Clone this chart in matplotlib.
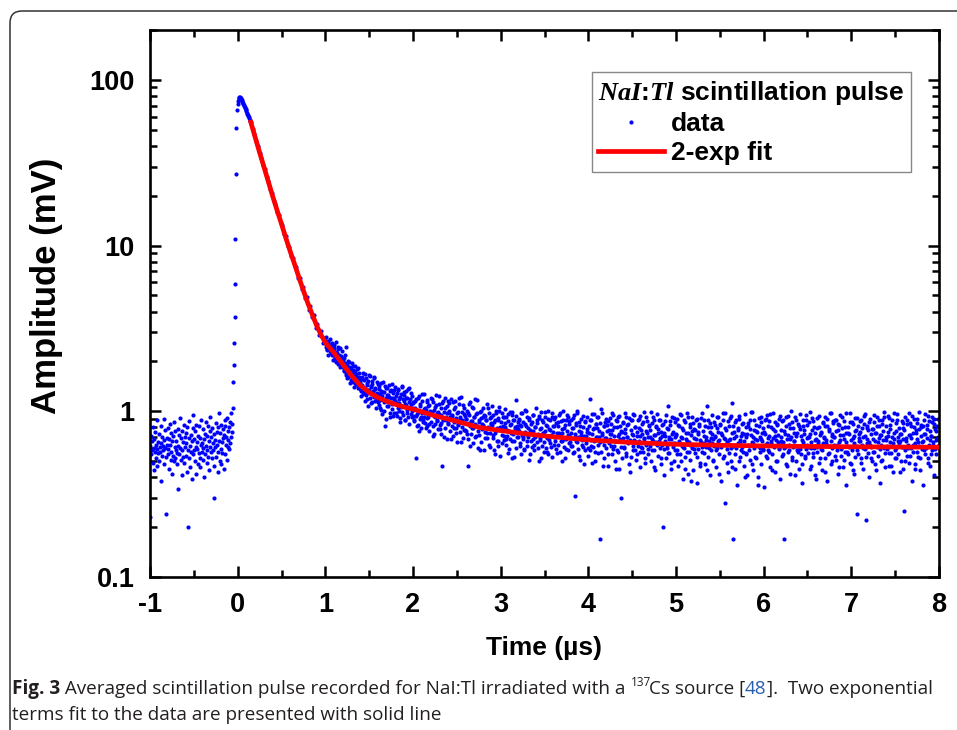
import numpy as np
import matplotlib
matplotlib.use('Agg')
import matplotlib.pyplot as plt
from matplotlib.patches import FancyBboxPatch
from matplotlib.transforms import IdentityTransform
from matplotlib.ticker import FixedLocator, FixedFormatter, LogLocator, NullFormatter, MultipleLocator

plt.rcParams['font.family'] = ['Liberation Sans', 'DejaVu Sans']
plt.rcParams['axes.unicode_minus'] = False
plt.rcParams['mathtext.fontset'] = 'custom'
plt.rcParams['mathtext.it'] = 'Liberation Serif:italic:bold'
plt.rcParams['mathtext.rm'] = 'Liberation Serif'

# ---- data ----
# baseline before the pulse, t = -1.0 ... step 0.005 us, amplitude in 0.01 mV
t_base0, dt_base = -1.0, 0.005
amp_base = [
    23, 62, 55, 71, 58, 66, 49, 80, 60, 44, 68, 57, 75, 52, 63, 59, 88, 47, 65, 56,
    73, 50, 61, 57, 82, 64, 38, 70, 54, 62, 58, 90, 48, 67, 60, 77, 53, 24, 63, 69,
    55, 79, 59, 45, 68, 63, 84, 51, 57, 74, 42, 66, 54, 71, 50, 86, 61, 76, 52, 58,
    66, 56, 48, 78, 62, 34, 72, 55, 91, 60, 51, 69, 41, 76, 58, 65, 53, 83, 49, 70,
    61, 74, 54, 64, 43, 80, 20, 58, 69, 52, 87, 62, 46, 72, 57, 66, 39, 79, 55, 95,
    58, 68, 50, 76, 61, 42, 83, 59, 65, 48, 71, 56, 81, 52, 69, 46, 63, 89, 57, 64,
    51, 78, 60, 68, 40, 73, 55, 86, 62, 49, 71, 58, 82, 53, 66, 44, 76, 61, 92, 57,
    70, 52, 79, 58, 64, 47, 73, 30, 67, 61, 85, 53, 75, 63, 43, 80, 57, 97, 66, 50,
    74, 59, 48, 83, 65, 56, 78, 69, 45, 72, 88, 55, 81, 63, 70, 51, 91, 61, 76, 67,
    59, 80, 64, 86, 70, 98, 75, 84,
]

# rising edge, t = -0.055 ... step 0.005 us, mV
t_rise0, dt_rise = -0.055, 0.005
amp_rise = [1.05, 1.5, 1.9, 2.6, 3.7, 5.9, 11.0, 27.0, 51.0, 66.0]

# pulse top, t = 0 ... step 0.005 us, mV
t_peak0, dt_peak = 0.0, 0.005
amp_peak = [72, 75, 77, 78, 78.5, 78.5, 78, 77.5, 76.5, 75.5, 74.5, 73.5, 72.5, 71.5,
            70.5, 69.5, 68.5, 67.5, 66.5, 65.5, 64.5, 63.5, 62.5, 61.5, 60.5, 59.5,
            58.5, 57.5, 56.5]

# fast decay, t = 0.15 ... step 0.02 us, mV
t_dec0, dt_dec = 0.15, 0.02
amp_dec = [55.8, 50.6, 47.3, 42.7, 39.8, 36.2, 33.9, 30.8, 28.9, 26.1, 24.6, 22.1,
           20.9, 18.7, 17.9, 16.0, 15.4, 13.7, 13.3, 11.7, 11.4, 10.0, 9.8, 8.6, 8.4,
           7.5, 7.4, 6.4, 6.4, 5.5, 5.6, 4.8, 4.9, 4.1, 4.3, 3.7, 3.8, 3.2, 3.35, 2.9,
           3.05, 2.6, 2.75]

# slow part, t = 1.0 ... step 0.008 us, mV
t_slow0, dt_slow = 1.0, 0.008
amp_slow = [
    2.71, 2.45, 2.58, 2.38, 2.66, 2.49, 2.31, 2.52, 2.29, 2.44, 2.18, 2.36, 2.21, 2.40, 2.09, 2.27, 2.15, 2.02, 2.43, 2.11, 1.95, 2.08, 1.89, 2.16, 1.97,
    1.85, 2.10, 1.78, 1.96, 2.43, 1.71, 1.90, 1.62, 1.83, 1.97, 1.66, 1.54, 1.79, 1.70, 1.88, 1.51, 1.64, 1.75, 1.48, 1.69, 1.58, 1.82, 1.43, 1.61, 1.52,
    1.49, 1.33, 1.61, 1.40, 1.28, 1.55, 1.37, 1.68, 1.25, 1.44, 1.19, 1.52, 1.34, 1.63, 1.29, 1.41, 1.13, 1.47, 1.31, 1.58, 1.22, 1.36, 1.26, 1.50, 1.18,
    1.28, 1.09, 1.42, 1.17, 1.33, 1.02, 1.24, 1.51, 1.13, 1.30, 0.82, 1.20, 1.38, 1.07, 1.26, 1.15, 1.45, 0.98, 1.21, 1.34, 1.11, 1.29, 0.94, 1.18, 1.40,
    1.16, 0.97, 1.29, 1.05, 1.37, 1.12, 0.91, 1.22, 1.08, 1.43, 0.99, 1.18, 1.26, 0.88, 1.10, 1.33, 1.02, 1.20, 0.93, 1.14, 1.39, 1.06, 0.96, 1.24, 1.01,
]
# interleaved samples of the slow part, t = 1.004 ... step 0.008 us, mV
t_slow2_0 = 1.004
amp_slow2 = [
    2.55, 2.82, 2.34, 2.61, 2.20, 2.47, 2.73, 2.26, 2.39, 2.58, 2.05, 2.31, 2.50, 2.14, 2.62, 1.98, 2.25, 2.37, 1.92, 2.19, 2.41, 1.86, 2.12, 2.30, 1.94,
    2.04, 1.74, 1.93, 2.19, 1.65, 1.81, 1.58, 2.02, 1.72, 1.49, 1.86, 1.63, 1.95, 1.55, 1.77, 1.41, 1.68, 1.88, 1.46, 1.60, 1.79, 1.39, 1.57, 1.71, 1.36,
    1.56, 1.24, 1.45, 1.71, 1.30, 1.38, 1.16, 1.59, 1.27, 1.48, 1.07, 1.35, 1.66, 1.21, 1.43, 1.12, 1.53, 1.32, 1.25, 1.60, 1.15, 1.39, 1.04, 1.29, 1.46,
    1.14, 1.36, 1.05, 1.27, 1.48, 0.96, 1.19, 1.31, 1.01, 1.42, 1.16, 0.90, 1.25, 1.38, 1.08, 1.22, 0.93, 1.33, 1.12, 1.47, 1.03, 1.20, 1.35, 0.97, 1.15,
    1.23, 0.94, 1.12, 1.34, 1.00, 1.18, 0.86, 1.27, 1.06, 1.41, 0.95, 1.15, 1.30, 0.89, 1.09, 1.21, 0.98, 1.36, 1.04, 0.84, 1.19, 1.10, 1.29, 0.92, 1.13,
]

# tail, t = 2.0 ... step 0.0075 us, amplitude in 0.01 mV
t_tail0, dt_tail = 2.0, 0.0075
amp_tail = [
    112, 94, 87, 105, 52, 118, 96, 83, 101, 124, 90, 108, 79, 115, 98, 88, 127, 93, 104, 85,
    102, 81, 117, 92, 76, 109, 97, 121, 86, 99, 71, 113, 94, 84, 106, 125, 89, 98, 78, 110,
    96, 83, 104, 73, 47, 115, 88, 99, 79, 120, 92, 68, 107, 85, 97, 112, 76, 90, 118, 82,
    94, 71, 103, 86, 116, 79, 91, 65, 99, 84, 110, 75, 93, 122, 80, 88, 69, 105, 96, 77,
    90, 76, 101, 68, 47, 95, 82, 113, 73, 87, 106, 79, 64, 92, 84, 118, 71, 98, 81, 60,
    86, 72, 99, 65, 91, 78, 104, 83, 58, 94, 75, 88, 69, 110, 80, 63, 97, 74, 85, 92,
    83, 69, 95, 58, 88, 74, 101, 66, 79, 91, 62, 106, 77, 54, 86, 72, 98, 81, 67, 93,
    80, 63, 92, 71, 56, 87, 76, 99, 68, 84, 52, 95, 73, 66, 89, 78, 60, 117, 82, 70,
    78, 90, 64, 83, 55, 97, 72, 68, 86, 59, 102, 75, 81, 62, 93, 70, 51, 88, 77, 66,
    84, 61, 76, 95, 58, 80, 70, 104, 65, 88, 73, 50, 91, 67, 79, 99, 62, 74, 86, 57,
    76, 92, 60, 83, 69, 101, 55, 78, 88, 64, 72, 97, 53, 81, 70, 90, 66, 59, 85, 74,
    82, 63, 95, 71, 57, 87, 74, 66, 100, 61, 79, 52, 89, 68, 76, 93, 58, 84, 72, 65,
    74, 88, 62, 79, 56, 95, 70, 31, 83, 65, 98, 59, 76, 86, 51, 72, 90, 67, 61, 80,
    71, 58, 86, 64, 93, 75, 54, 81, 68, 118, 62, 89, 73, 49, 78, 96, 66, 57, 84, 70,
    79, 63, 92, 70, 17, 85, 57, 74, 98, 66, 52, 81, 69, 90, 60, 76, 47, 87, 64, 73,
    68, 84, 55, 77, 95, 62, 71, 50, 88, 66, 80, 58, 93, 73, 45, 82, 61, 30, 75, 69,
    86, 60, 74, 98, 56, 70, 83, 64, 48, 91, 67, 77, 53, 88, 62, 72, 95, 58, 80, 65,
    71, 55, 89, 66, 79, 46, 94, 61, 73, 84, 57, 68, 99, 52, 76, 63, 87, 59, 70, 81,
    62, 77, 50, 85, 68, 93, 58, 72, 44, 80, 65, 96, 54, 74, 88, 60, 69, 48, 83, 71,
    20, 74, 59, 87, 66, 52, 79, 63, 107, 70, 56, 83, 45, 68, 92, 61, 75, 50, 86, 64,
    73, 58, 90, 47, 66, 81, 55, 70, 95, 62, 39, 77, 60, 86, 53, 68, 98, 57, 74, 42,
    65, 84, 51, 72, 60, 93, 44, 69, 78, 56, 88, 63, 37, 75, 59, 82, 67, 49, 91, 61,
    57, 76, 64, 89, 48, 70, 61, 107, 53, 80, 66, 41, 85, 58, 73, 95, 50, 68, 62, 83,
    71, 46, 79, 60, 92, 55, 67, 84, 38, 74, 63, 88, 52, 69, 97, 28, 77, 59, 65, 43,
    81, 56, 68, 94, 50, 112, 62, 17, 75, 45, 86, 60, 71, 36, 79, 64, 90, 53, 67, 58,
    74, 61, 85, 47, 66, 96, 55, 70, 41, 82, 63, 58, 89, 51, 72, 65, 99, 44, 77, 60,
    68, 83, 52, 75, 62, 40, 91, 57, 70, 86, 48, 66, 79, 59, 35, 73, 88, 54, 64, 95,
    58, 71, 87, 46, 64, 80, 55, 69, 98, 61, 43, 76, 67, 84, 50, 72, 60, 90, 39, 66,
    77, 54, 65, 89, 60, 17, 73, 82, 48, 68, 94, 57, 63, 42, 79, 70, 86, 51, 61, 74,
    66, 92, 50, 71, 58, 84, 62, 45, 78, 96, 55, 67, 37, 81, 63, 73, 52, 88, 59, 69,
    83, 56, 70, 61, 99, 47, 65, 77, 53, 87, 60, 41, 74, 68, 91, 57, 64, 80, 49, 72,
    59, 75, 44, 86, 64, 70, 93, 52, 67, 81, 38, 62, 78, 56, 97, 66, 48, 73, 60, 85,
    70, 63, 89, 51, 76, 58, 42, 84, 65, 72, 95, 54, 61, 79, 46, 68, 87, 57, 74, 36,
    62, 80, 55, 73, 98, 49, 67, 60, 86, 44, 71, 64, 91, 53, 77, 58, 24, 82, 66, 69,
    75, 52, 88, 63, 70, 45, 84, 59, 96, 22, 68, 79, 56, 65, 40, 90, 61, 73, 50, 78,
    57, 86, 66, 48, 74, 61, 93, 54, 69, 82, 37, 72, 63, 88, 51, 76, 60, 99, 46, 67,
    81, 59, 71, 94, 47, 65, 78, 56, 62, 89, 43, 74, 68, 52, 85, 60, 96, 55, 70, 64,
    66, 73, 50, 87, 61, 79, 45, 25, 92, 58, 69, 84, 54, 63, 97, 49, 72, 60, 81, 38,
    74, 57, 90, 64, 48, 77, 68, 85, 53, 62, 99, 44, 71, 80, 59, 66, 36, 88, 55, 73,
    60, 83, 69, 52, 94, 63, 76, 47, 71, 86, 58, 65, 90, 41, 78, 67, 55, 82, 62, 70,
]
# interleaved tail samples, t = 2.004 ... step 0.01 us, amplitude in 0.01 mV
t_tail2_0, dt_tail2 = 2.004, 0.01
amp_tail2 = [
    105, 89, 116, 94, 82, 121, 99, 76, 110, 92, 128, 86, 103, 97, 79, 114, 91, 107, 84, 100,
    96, 118, 81, 102, 73, 93, 109, 87, 99, 123, 78, 95, 85, 112, 90, 70, 104, 88, 97, 115,
    84, 101, 92, 68, 95, 113, 79, 88, 106, 74, 97, 83, 120, 90, 65, 99, 86, 109, 77, 94,
    90, 73, 98, 85, 111, 62, 87, 79, 104, 92, 70, 96, 81, 117, 76, 89, 58, 100, 84, 93,
    82, 95, 69, 88, 74, 105, 79, 61, 91, 84, 108, 72, 86, 55, 97, 77, 89, 66, 101, 80,
    79, 64, 92, 71, 85, 103, 68, 77, 96, 59, 83, 74, 99, 66, 88, 53, 80, 94, 70, 86,
    76, 89, 62, 81, 97, 70, 58, 84, 73, 101, 66, 79, 91, 55, 75, 86, 68, 95, 63, 80,
    72, 85, 60, 94, 69, 78, 52, 88, 74, 65, 99, 71, 82, 57, 90, 67, 77, 61, 93, 75,
    81, 63, 92, 70, 56, 86, 74, 97, 66, 78, 50, 89, 68, 83, 59, 95, 72, 64, 87, 69,
    62, 79, 91, 57, 73, 85, 66, 100, 70, 54, 82, 75, 63, 94, 68, 48, 87, 71, 78, 60,
    74, 58, 88, 67, 96, 61, 79, 50, 84, 70, 92, 56, 76, 65, 103, 72, 47, 81, 63, 86,
    69, 83, 55, 77, 91, 62, 73, 98, 59, 80, 66, 45, 87, 71, 57, 94, 68, 76, 52, 85,
    61, 78, 93, 54, 70, 84, 65, 43, 89, 73, 58, 96, 67, 80, 51, 75, 62, 90, 71, 57,
    77, 60, 86, 69, 49, 92, 64, 74, 55, 83, 70, 99, 58, 66, 88, 46, 72, 81, 63, 78,
    66, 89, 52, 75, 63, 84, 41, 71, 95, 60, 78, 56, 68, 87, 49, 73, 64, 91, 58, 70,
    72, 55, 83, 64, 96, 50, 69, 79, 61, 88, 45, 74, 66, 92, 57, 80, 63, 38, 76, 85,
    59, 77, 68, 90, 53, 73, 84, 47, 65, 98, 62, 71, 56, 82, 67, 44, 88, 60, 75, 69,
    80, 64, 51, 86, 70, 58, 93, 66, 75, 42, 83, 61, 72, 97, 54, 68, 79, 63, 49, 87,
    67, 91, 60, 74, 46, 82, 69, 55, 88, 63, 77, 50, 94, 65, 71, 84, 57, 73, 40, 80,
    56, 73, 85, 62, 78, 99, 48, 70, 64, 89, 53, 76, 67, 36, 81, 60, 92, 68, 74, 58,
    75, 63, 90, 52, 69, 81, 57, 96, 66, 44, 78, 62, 86, 71, 50, 83, 65, 59, 94, 70,
    64, 87, 55, 76, 61, 93, 47, 72, 84, 58, 68, 100, 53, 79, 66, 41, 88, 62, 74, 57,
    82, 59, 71, 48, 89, 65, 77, 54, 95, 63, 70, 86, 45, 73, 60, 91, 56, 80, 67, 39,
    61, 79, 66, 94, 52, 74, 58, 85, 69, 43, 81, 64, 90, 55, 76, 62, 97, 50, 71, 87,
    70, 54, 88, 63, 77, 46, 83, 67, 59, 92, 72, 51, 80, 65, 98, 57, 74, 61, 86, 48,
    58, 84, 69, 42, 76, 62, 91, 55, 73, 66, 87, 49, 79, 60, 94, 71, 53, 82, 64, 77,
    86, 63, 52, 78, 68, 95, 57, 74, 44, 81, 65, 89, 59, 72, 50, 84, 67, 93, 56, 70,
    62, 75, 91, 56, 83, 47, 70, 64, 97, 58, 76, 52, 88, 66, 79, 43, 73, 61, 85, 68,
    77, 50, 66, 89, 60, 72, 85, 54, 69, 94, 63, 80, 45, 74, 57, 90, 65, 78, 52, 83,
    65, 82, 58, 73, 96, 61, 78, 49, 87, 67, 71, 55, 92, 63, 84, 59, 76, 68, 90, 62,
]

# 2-exp fit curve
fit_t = [0.15, 0.2, 0.25, 0.3, 0.35, 0.4, 0.45, 0.5, 0.55, 0.6, 0.65, 0.7, 0.75, 0.8,
         0.85, 0.9, 0.95, 1.0, 1.05, 1.1, 1.2, 1.3, 1.4, 1.5, 1.6, 1.7, 1.8, 1.9, 2.0,
         2.25, 2.5, 2.75, 3.0, 3.25, 3.5, 3.75, 4.0, 4.5, 5.0, 5.5, 6.0, 6.5, 7.0, 7.5, 8.0]
fit_v = [55.5, 45, 36.5, 29.8, 24.3, 19.8, 16.3, 13.5, 11.1, 9.2, 7.7, 6.4, 5.35, 4.5,
         3.85, 3.3, 2.9, 2.6, 2.42, 2.25, 1.92, 1.64, 1.43, 1.30, 1.21, 1.15, 1.10, 1.06, 1.03,
         0.94, 0.87, 0.80, 0.765, 0.735, 0.71, 0.69, 0.672, 0.648, 0.632, 0.624, 0.618,
         0.614, 0.611, 0.609, 0.607]

x_ticks = [-1, 0, 1, 2, 3, 4, 5, 6, 7, 8]
y_ticks = [0.1, 1, 10, 100]
y_ticklabels = ['0.1', '1', '10', '100']


def sample_times(t0, dt, vals):
    return t0 + dt * np.arange(len(vals))


t_all = np.concatenate([
    sample_times(t_base0, dt_base, amp_base),
    sample_times(t_rise0, dt_rise, amp_rise),
    sample_times(t_peak0, dt_peak, amp_peak),
    sample_times(t_dec0, dt_dec, amp_dec),
    sample_times(t_slow0, dt_slow, amp_slow),
    sample_times(t_slow2_0, dt_slow, amp_slow2),
    sample_times(t_tail0, dt_tail, amp_tail),
    sample_times(t_tail2_0, dt_tail2, amp_tail2),
])
a_all = np.concatenate([
    np.array(amp_base) / 100.0,
    amp_rise, amp_peak, amp_dec, amp_slow, amp_slow2,
    np.array(amp_tail) / 100.0,
    np.array(amp_tail2) / 100.0,
])

W, H = 957, 730
fig = plt.figure(figsize=(W / 100, H / 100), dpi=100)
ax = fig.add_axes([150 / W, 1 - 577 / H, 789 / W, 547 / H])

ax.plot(t_all, a_all, 'o', color='#0000ff', ms=3.0, mew=0, linestyle='none',
        label='data', zorder=2)
ax.plot(fit_t, fit_v, '-', color='#ff0000', lw=3.4, label='2-exp fit', zorder=3)

ax.set_yscale('log')
ax.set_xlim(-1, 8)
ax.set_ylim(0.1, 200)

ax.xaxis.set_major_locator(FixedLocator(x_ticks))
ax.xaxis.set_minor_locator(MultipleLocator(0.5))
ax.yaxis.set_major_locator(FixedLocator(y_ticks))
ax.yaxis.set_major_formatter(FixedFormatter(y_ticklabels))
ax.yaxis.set_minor_locator(LogLocator(base=10, subs=range(2, 10)))
ax.yaxis.set_minor_formatter(NullFormatter())

for s in ax.spines.values():
    s.set_linewidth(1.9)
ax.tick_params(which='both', direction='in', top=True, right=True, width=1.8)
ax.tick_params(which='major', length=8, pad=11, labelsize=19.5)
ax.tick_params(which='minor', length=5)
for lab in ax.get_xticklabels() + ax.get_yticklabels():
    lab.set_fontweight('bold')

ax.set_xlabel('Time (\u00b5s)', fontsize=19, fontweight='bold')
ax.set_ylabel('Amplitude (mV)', fontsize=25, fontweight='bold')
ax.xaxis.set_label_coords(0.5, -0.13)
ax.xaxis.label.set_verticalalignment('center')
ax.yaxis.set_label_coords(-0.131, 0.532)
ax.yaxis.label.set_verticalalignment('center')

leg = ax.legend(loc='upper right', bbox_to_anchor=(0.9645, 0.923), borderaxespad=0,
                title=r'$\mathit{NaI}$:$\mathit{Tl}$ scintillation pulse',
                title_fontproperties={'weight': 'bold', 'size': 19},
                prop={'weight': 'bold', 'size': 19}, fancybox=False,
                edgecolor='#888888', framealpha=1, handlelength=2.5,
                handletextpad=0.25, labelspacing=0.2, borderpad=0.25,
                alignment='left', numpoints=1)
leg.get_frame().set_linewidth(1.0)

# rounded frame around the whole figure
frame = FancyBboxPatch((10, -40), 1000, H - 11 + 40, boxstyle='round,pad=0,rounding_size=12',
                       transform=IdentityTransform(), facecolor='none',
                       edgecolor='#333333', linewidth=1.1)
fig.patches.append(frame)

# caption
renderer = fig.canvas.get_renderer()
cap_color = '#231f20'
cap_font = ['Open Sans', 'DejaVu Sans']


def put_run(x_px, y_px, pieces):
    for text, kw in pieces:
        size = kw.get('size', 13.6)
        dy = kw.get('dy', 0)
        t = fig.text(x_px / W, 1 - (y_px - dy) / H, text, fontsize=size,
                     family=cap_font, fontweight=kw.get('weight', 'normal'),
                     color=kw.get('color', cap_color), va='baseline', ha='left')
        bb = t.get_window_extent(renderer)
        x_px = bb.x1 - kw.get('tight', 0)


put_run(12, 694, [
    ('Fig. 3', {'weight': 'bold'}),
    (' Averaged scintillation pulse recorded for NaI:Tl irradiated with a ', {}),
    ('137', {'size': 8.5, 'dy': 8, 'tight': 2}),
    ('Cs source [', {}),
    ('48', {'color': '#2a5db0'}),
    ('].  Two exponential', {}),
])
put_run(12, 720, [('terms fit to the data are presented with solid line', {})])

fig.savefig('out.png', dpi=100)
